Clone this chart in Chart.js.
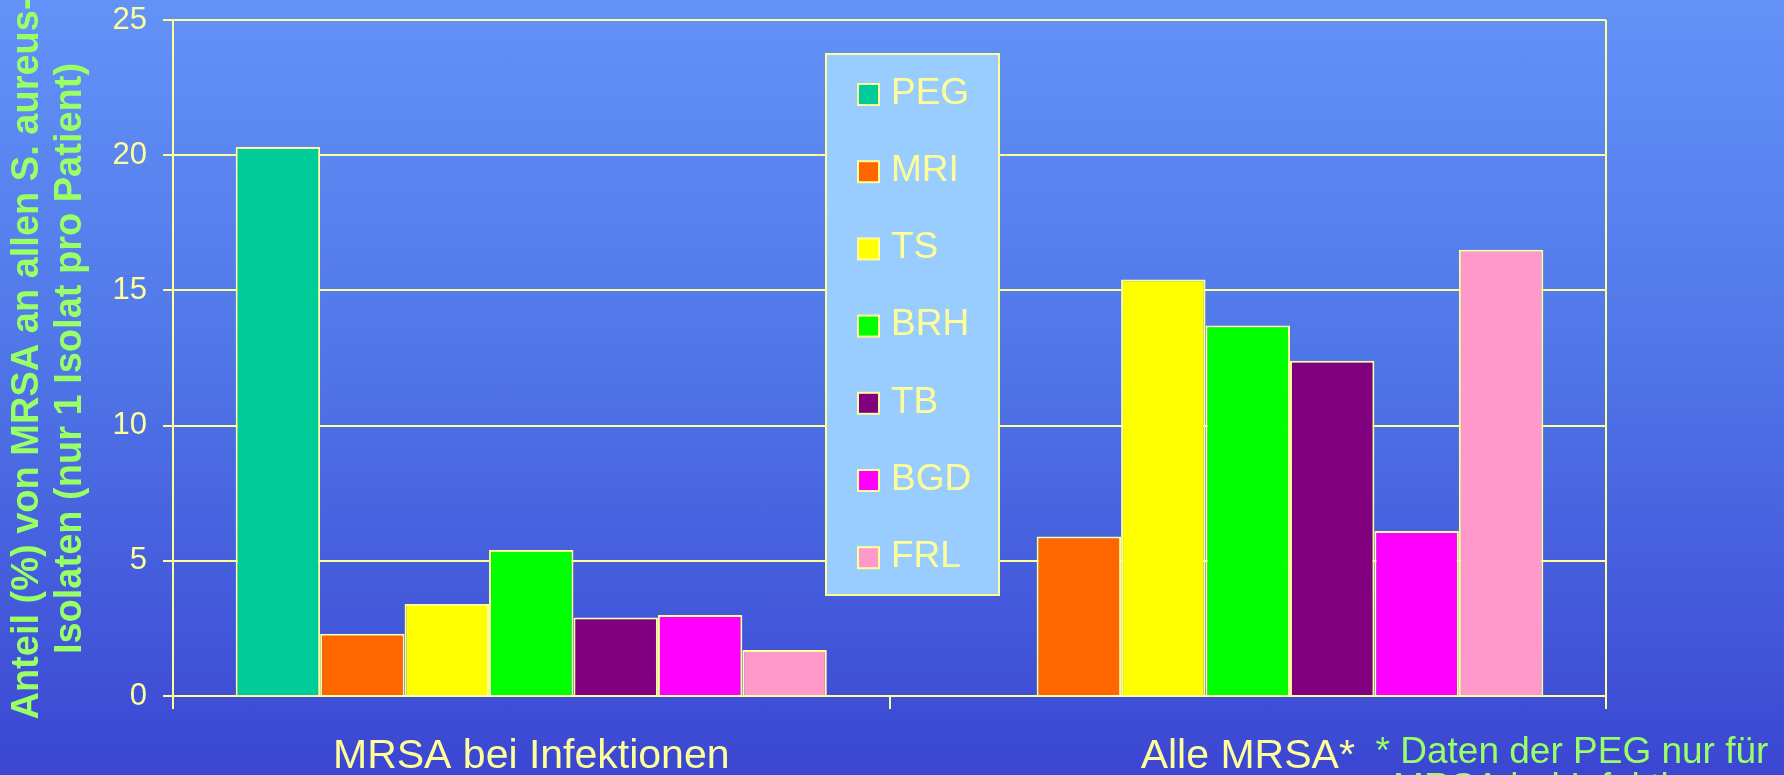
<!DOCTYPE html>
<html>
<head>
<meta charset="utf-8">
<title>MRSA Anteil</title>
<script src="https://cdn.jsdelivr.net/npm/chart.js@4.4.1/dist/chart.umd.min.js"></script>
<style>
  html, body {
    margin: 0;
    padding: 0;
    overflow: hidden;
  }
  body {
    width: 1784px;
    height: 775px;
    background: linear-gradient(to bottom, #6392f8 0%, #5077e8 45%, #3b46d2 100%);
  }
  #chart-wrap {
    position: relative;
    width: 1784px;
    height: 775px;
  }
</style>
</head>
<body>
<div id="chart-wrap">
  <canvas id="mrsa-chart" width="1784" height="775"></canvas>
</div>
<script>
// Chart data
const categories = ['MRSA bei Infektionen', 'Alle MRSA*'];
const seriesNames = ['PEG', 'MRI', 'TS', 'BRH', 'TB', 'BGD', 'FRL'];
const pegValues = [20.3, null];
const mriValues = [2.3, 5.9];
const tsValues = [3.4, 15.4];
const brhValues = [5.4, 13.7];
const tbValues = [2.9, 12.4];
const bgdValues = [3.0, 6.1];
const frlValues = [1.7, 16.5];
const yMax = 25;
const yStep = 5;
const yTitleLines = ['Anteil (%) von MRSA an allen S. aureus-', 'Isolaten (nur 1 Isolat pro Patient)'];
const footnoteLines = ['* Daten der PEG nur für', 'MRSA bei Infektionen'];

const seriesValues = [pegValues, mriValues, tsValues, brhValues, tbValues, bgdValues, frlValues];
const seriesColors = ['#00cc99', '#ff6600', '#ffff00', '#00ff00', '#800080', '#ff00ff', '#ff99cc'];

const lineYellow = '#ffff99';
const textGreen = '#99ff66';
const fontFamily = '"Liberation Sans", Arial, sans-serif';

// Legend box drawn over the plot (covers the grid lines like in the slide)
const boxLegend = {
  id: 'boxLegend',
  afterDatasetsDraw(chart) {
    const ctx = chart.ctx;
    const left = 826, top = 54, width = 173, height = 541;
    ctx.save();
    ctx.fillStyle = '#99ccff';
    ctx.fillRect(left, top, width, height);
    ctx.strokeStyle = lineYellow;
    ctx.lineWidth = 2;
    ctx.strokeRect(left, top, width, height);

    ctx.font = '37px ' + fontFamily;
    ctx.textBaseline = 'middle';
    ctx.textAlign = 'left';
    chart.data.datasets.forEach((ds, i) => {
      const cy = 94.5 + i * 77.2;
      ctx.fillStyle = ds.backgroundColor;
      ctx.fillRect(858, cy - 10.5, 21, 21);
      ctx.strokeStyle = lineYellow;
      ctx.lineWidth = 2;
      ctx.strokeRect(858, cy - 10.5, 21, 21);
      ctx.fillStyle = lineYellow;
      ctx.fillText(ds.label, 891, cy - 1);
    });
    ctx.restore();
  }
};

// Right edge of plot frame, rotated y title and footnote
const extras = {
  id: 'extras',
  afterDraw(chart) {
    const ctx = chart.ctx;
    const area = chart.chartArea;
    ctx.save();
    ctx.strokeStyle = lineYellow;
    ctx.lineWidth = 2;
    ctx.beginPath();
    ctx.moveTo(area.right, area.top);
    ctx.lineTo(area.right, area.bottom);
    ctx.stroke();

    // y axis title, two lines
    ctx.save();
    ctx.translate(28, 358.5);
    ctx.rotate(-Math.PI / 2);
    ctx.font = 'bold 38px ' + fontFamily;
    ctx.fillStyle = textGreen;
    ctx.textAlign = 'center';
    ctx.textBaseline = 'middle';
    yTitleLines.forEach((line, i) => ctx.fillText(line, 0, i * 43));
    ctx.restore();

    // footnote (second line runs off the bottom)
    ctx.font = '37px ' + fontFamily;
    ctx.fillStyle = textGreen;
    ctx.textAlign = 'center';
    ctx.textBaseline = 'alphabetic';
    footnoteLines.forEach((line, i) => ctx.fillText(line, 1572, 763 + i * 36));
    ctx.restore();
  }
};

const ctx = document.getElementById('mrsa-chart').getContext('2d');

const chart = new Chart(ctx, {
  type: 'bar',
  data: {
    labels: categories,
    datasets: seriesNames.map((name, i) => ({
      label: name,
      data: seriesValues[i],
      backgroundColor: seriesColors[i],
      borderColor: lineYellow,
      borderWidth: 2,
      categoryPercentage: 0.825,
      barPercentage: 1
    }))
  },
  options: {
    responsive: false,
    animation: false,
    layout: {
      padding: { top: 20, right: 178, left: 0, bottom: 0 }
    },
    plugins: {
      legend: { display: false },
      tooltip: { enabled: false }
    },
    scales: {
      x: {
        offset: true,
        grid: {
          offset: true,
          drawOnChartArea: false,
          drawTicks: true,
          tickLength: 13,
          color: lineYellow,
          lineWidth: 2
        },
        border: { display: true, color: lineYellow, width: 2 },
        ticks: {
          color: lineYellow,
          padding: 23,
          font: { family: fontFamily, size: 41, lineHeight: 1.2 },
          maxRotation: 0
        },
        afterFit(scale) {
          scale.height = 79;
        }
      },
      y: {
        min: 0,
        max: yMax,
        grid: {
          color: lineYellow,
          lineWidth: 2,
          tickLength: 10
        },
        border: { display: true, color: lineYellow, width: 2 },
        ticks: {
          stepSize: yStep,
          color: lineYellow,
          padding: 16,
          font: { family: fontFamily, size: 31 }
        },
        afterFit(scale) {
          scale.width = 173;
          // tick padding would otherwise push the plot top down
          scale.paddingTop = 0;
          scale.paddingBottom = 0;
        }
      }
    }
  },
  plugins: [boxLegend, extras]
});
</script>
</body>
</html>
